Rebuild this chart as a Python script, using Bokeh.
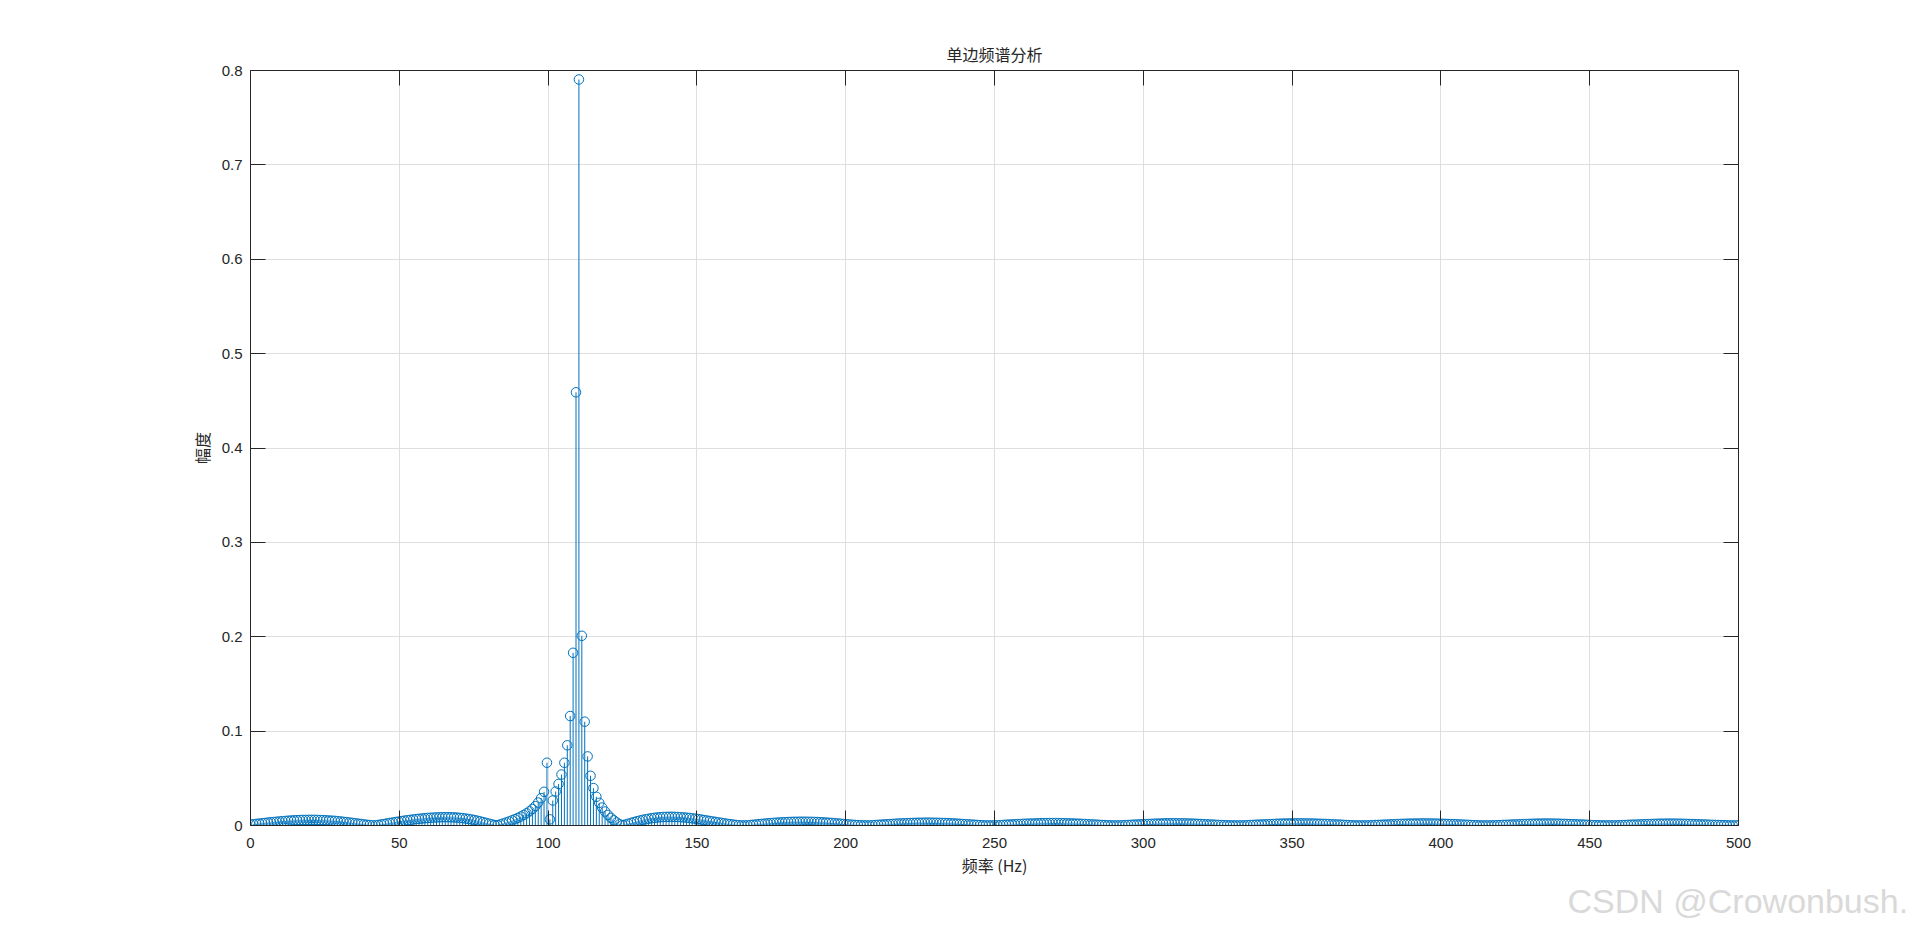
import numpy as np
from bokeh.plotting import figure
from bokeh.models import (Range1d, FixedTicker, LinearAxis, Title,
                          CustomJSTickFormatter, ColumnDataSource)
from bokeh.embed import file_html
from bokeh.resources import INLINE

# ---------------- data ----------------
fs = 1000.0          # sampling rate (Hz)
nfft = 1024          # FFT length -> bin spacing fs/nfft

amp_bins_000_042 = [
    0.0010, 0.0013, 0.0017, 0.0020, 0.0024, 0.0027, 0.0031, 0.0034, 0.0037, 0.0040,
    0.0043, 0.0046, 0.0048, 0.0051, 0.0053, 0.0055, 0.0056, 0.0058, 0.0059, 0.0059,
    0.0060, 0.0060, 0.0060, 0.0059, 0.0058, 0.0057, 0.0055, 0.0053, 0.0051, 0.0049,
    0.0046, 0.0043, 0.0039, 0.0036, 0.0032, 0.0028, 0.0024, 0.0020, 0.0016, 0.0012,
    0.0008, 0.0005, 0.0002]
amp_bins_043_084 = [
    0.0002, 0.0006, 0.0011, 0.0016, 0.0022, 0.0027, 0.0032, 0.0037, 0.0042, 0.0047,
    0.0052, 0.0056, 0.0060, 0.0064, 0.0068, 0.0071, 0.0074, 0.0077, 0.0080, 0.0082,
    0.0084, 0.0086, 0.0087, 0.0088, 0.0088, 0.0088, 0.0087, 0.0086, 0.0084, 0.0081,
    0.0078, 0.0074, 0.0069, 0.0064, 0.0058, 0.0051, 0.0044, 0.0036, 0.0028, 0.0020,
    0.0012, 0.0005]
amp_bins_085_127 = [
    0.0003, 0.0012, 0.0022, 0.0032, 0.0043, 0.0055, 0.0067, 0.0080, 0.0095, 0.0111,
    0.0129, 0.0150, 0.0175, 0.0205, 0.0243, 0.0290, 0.0357, 0.0665, 0.0065, 0.0265,
    0.0360, 0.0440, 0.0540, 0.0665, 0.0850, 0.1160, 0.1830, 0.4590, 0.7905, 0.2010,
    0.1100, 0.0732, 0.0527, 0.0396, 0.0304, 0.0240, 0.0190, 0.0148, 0.0112, 0.0081,
    0.0055, 0.0032, 0.0013]
amp_bins_128_170 = [
    0.0004, 0.0010, 0.0019, 0.0028, 0.0037, 0.0045, 0.0053, 0.0060, 0.0066, 0.0072,
    0.0077, 0.0081, 0.0085, 0.0088, 0.0090, 0.0091, 0.0092, 0.0092, 0.0091, 0.0090,
    0.0088, 0.0086, 0.0083, 0.0080, 0.0076, 0.0072, 0.0068, 0.0063, 0.0058, 0.0053,
    0.0048, 0.0043, 0.0038, 0.0033, 0.0028, 0.0023, 0.0018, 0.0014, 0.0010, 0.0006,
    0.0003, 0.0001, 0.0001]
amp_bins_171_212 = [
    0.0002, 0.0005, 0.0008, 0.0011, 0.0014, 0.0017, 0.0020, 0.0023, 0.0025, 0.0028,
    0.0030, 0.0032, 0.0034, 0.0035, 0.0037, 0.0038, 0.0039, 0.0039, 0.0040, 0.0040,
    0.0040, 0.0039, 0.0039, 0.0038, 0.0037, 0.0035, 0.0033, 0.0031, 0.0029, 0.0027,
    0.0024, 0.0022, 0.0019, 0.0016, 0.0013, 0.0011, 0.0008, 0.0006, 0.0004, 0.0002,
    0.0001, 0.0001]
amp_bins_213_255 = [
    0.0001, 0.0003, 0.0005, 0.0007, 0.0009, 0.0011, 0.0013, 0.0015, 0.0017, 0.0019,
    0.0021, 0.0022, 0.0024, 0.0025, 0.0026, 0.0027, 0.0028, 0.0029, 0.0029, 0.0030,
    0.0030, 0.0030, 0.0029, 0.0029, 0.0028, 0.0027, 0.0026, 0.0025, 0.0023, 0.0022,
    0.0020, 0.0018, 0.0016, 0.0014, 0.0012, 0.0010, 0.0008, 0.0006, 0.0004, 0.0002,
    0.0001, 0.0001, 0.0001]
amp_bins_256_298 = [
    0.0001, 0.0002, 0.0004, 0.0006, 0.0008, 0.0010, 0.0011, 0.0013, 0.0015, 0.0016,
    0.0018, 0.0019, 0.0020, 0.0021, 0.0022, 0.0023, 0.0024, 0.0025, 0.0025, 0.0026,
    0.0026, 0.0026, 0.0025, 0.0025, 0.0024, 0.0023, 0.0022, 0.0021, 0.0020, 0.0019,
    0.0017, 0.0016, 0.0014, 0.0012, 0.0011, 0.0009, 0.0007, 0.0005, 0.0004, 0.0002,
    0.0001, 0.0001, 0.0001]
amp_bins_299_340 = [
    0.0001, 0.0002, 0.0004, 0.0005, 0.0007, 0.0009, 0.0010, 0.0012, 0.0013, 0.0015,
    0.0016, 0.0017, 0.0019, 0.0020, 0.0021, 0.0022, 0.0023, 0.0023, 0.0024, 0.0024,
    0.0024, 0.0023, 0.0023, 0.0022, 0.0021, 0.0020, 0.0019, 0.0017, 0.0016, 0.0014,
    0.0013, 0.0011, 0.0010, 0.0008, 0.0006, 0.0005, 0.0003, 0.0002, 0.0001, 0.0001,
    0.0001, 0.0001]
amp_bins_341_383 = [
    0.0001, 0.0002, 0.0003, 0.0005, 0.0006, 0.0008, 0.0009, 0.0011, 0.0012, 0.0014,
    0.0015, 0.0016, 0.0018, 0.0019, 0.0020, 0.0021, 0.0021, 0.0022, 0.0022, 0.0023,
    0.0023, 0.0023, 0.0022, 0.0022, 0.0021, 0.0020, 0.0019, 0.0018, 0.0017, 0.0016,
    0.0015, 0.0013, 0.0012, 0.0010, 0.0009, 0.0007, 0.0005, 0.0004, 0.0002, 0.0001,
    0.0001, 0.0001, 0.0001]
amp_bins_384_426 = [
    0.0001, 0.0002, 0.0003, 0.0005, 0.0006, 0.0007, 0.0009, 0.0010, 0.0012, 0.0013,
    0.0014, 0.0016, 0.0017, 0.0018, 0.0019, 0.0020, 0.0020, 0.0021, 0.0021, 0.0022,
    0.0022, 0.0022, 0.0021, 0.0021, 0.0020, 0.0019, 0.0018, 0.0017, 0.0016, 0.0015,
    0.0014, 0.0013, 0.0011, 0.0010, 0.0008, 0.0007, 0.0005, 0.0004, 0.0002, 0.0001,
    0.0001, 0.0001, 0.0001]
amp_bins_427_468 = [
    0.0001, 0.0002, 0.0003, 0.0004, 0.0006, 0.0007, 0.0008, 0.0010, 0.0011, 0.0012,
    0.0014, 0.0015, 0.0016, 0.0017, 0.0018, 0.0019, 0.0020, 0.0020, 0.0021, 0.0021,
    0.0021, 0.0020, 0.0020, 0.0019, 0.0018, 0.0017, 0.0016, 0.0015, 0.0014, 0.0013,
    0.0011, 0.0010, 0.0009, 0.0007, 0.0006, 0.0004, 0.0003, 0.0002, 0.0001, 0.0001,
    0.0001, 0.0001]
amp_bins_469_512 = [
    0.0001, 0.0002, 0.0003, 0.0004, 0.0005, 0.0007, 0.0008, 0.0009, 0.0010, 0.0012,
    0.0013, 0.0014, 0.0015, 0.0016, 0.0017, 0.0018, 0.0019, 0.0019, 0.0020, 0.0020,
    0.0020, 0.0020, 0.0019, 0.0019, 0.0018, 0.0017, 0.0016, 0.0015, 0.0014, 0.0013,
    0.0012, 0.0011, 0.0010, 0.0008, 0.0007, 0.0006, 0.0005, 0.0004, 0.0003, 0.0002,
    0.0001, 0.0001, 0.0001, 0.0000]

amplitude = (amp_bins_000_042 + amp_bins_043_084 + amp_bins_085_127 +
             amp_bins_128_170 + amp_bins_171_212 + amp_bins_213_255 +
             amp_bins_256_298 + amp_bins_299_340 + amp_bins_341_383 +
             amp_bins_384_426 + amp_bins_427_468 + amp_bins_469_512)
frequency = [k * fs / nfft for k in range(len(amplitude))]

x_ticks = [0, 50, 100, 150, 200, 250, 300, 350, 400, 450, 500]
y_ticks = [0, 0.1, 0.2, 0.3, 0.4, 0.5, 0.6, 0.7, 0.8]

title_text = "单边频谱分析"
xlabel_text = "频率 (Hz)"
ylabel_text = "幅度"
watermark_text = "CSDN @Crowonbush."

# ---------------- styling ----------------
BLUE = "#0072BD"
AX = "#262626"
GRID = "#dfdfdf"
TICK_FONT = "Liberation Sans"
CJK_FONT = "Noto Sans CJK SC"

src = ColumnDataSource(dict(f=frequency, a=amplitude, z=[0.0] * len(amplitude)))

p = figure(width=1920, height=927,
           x_range=Range1d(0, 500), y_range=Range1d(0, 0.8),
           output_backend="svg", toolbar_location=None,
           x_axis_location=None, y_axis_location=None,
           min_border_left=250, min_border_right=182,
           min_border_top=70, min_border_bottom=102,
           background_fill_color="white", border_fill_color="white")
p.outline_line_color = None

xt = FixedTicker(ticks=x_ticks)
yt = FixedTicker(ticks=y_ticks)
yfmt = CustomJSTickFormatter(code="return Number(tick.toFixed(1)).toString();")

bottom_axis = LinearAxis(ticker=xt, axis_label=xlabel_text)
left_axis = LinearAxis(ticker=yt, formatter=yfmt, axis_label=ylabel_text)
top_axis = LinearAxis(ticker=xt)
right_axis = LinearAxis(ticker=yt)
p.add_layout(bottom_axis, "below")
p.add_layout(left_axis, "left")
p.add_layout(top_axis, "above")
p.add_layout(right_axis, "right")

p.xgrid.ticker = xt
p.ygrid.ticker = yt
p.xgrid.grid_line_color = GRID
p.ygrid.grid_line_color = GRID

for ax in (bottom_axis, left_axis, top_axis, right_axis):
    ax.axis_line_color = AX
    ax.axis_line_width = 1
    ax.major_tick_line_color = AX
    ax.major_tick_in = 15
    ax.major_tick_out = 0
    ax.minor_tick_line_color = None
    ax.major_label_text_font = TICK_FONT
    ax.major_label_text_font_size = "15px"
    ax.major_label_text_color = AX
    ax.axis_label_text_font = CJK_FONT
    ax.axis_label_text_font_size = "16px"
    ax.axis_label_text_font_style = "normal"
    ax.axis_label_text_color = AX
for ax in (top_axis, right_axis):
    ax.major_label_text_font_size = "0px"
    ax.major_label_text_color = None
    ax.major_label_standoff = 0
bottom_axis.major_label_standoff = 12
bottom_axis.axis_label_standoff = 2
left_axis.major_label_standoff = 8
left_axis.axis_label_standoff = 5

p.segment(x0="f", y0="z", x1="f", y1="a", source=src, line_color=BLUE, line_width=1)
p.scatter(x="f", y="a", source=src, marker="circle", size=9.5,
          fill_color=None, line_color=BLUE, line_width=1)

p.title = Title(text=title_text, align="center", text_font=CJK_FONT,
                text_font_size="16px", text_font_style="normal", text_color=AX)

wm = Title(text=watermark_text, align="left", offset=1317, standoff=0,
           text_font="Liberation Sans", text_font_size="34px",
           text_font_style="normal", text_color="#d9d9d9")
p.add_layout(wm, "below")

open("out.html", "w").write(file_html(p, INLINE))
